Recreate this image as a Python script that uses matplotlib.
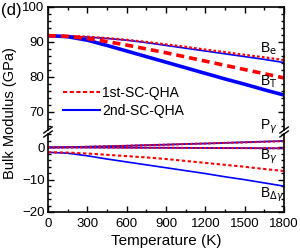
import matplotlib
matplotlib.use("Agg")
import matplotlib.pyplot as plt
from matplotlib.lines import Line2D

plt.rcParams['font.family'] = ['Liberation Sans', 'DejaVu Sans']
plt.rcParams['font.size'] = 9

# temperature grid (K)
temps = [0, 150, 300, 450, 600, 750, 900, 1050, 1200, 1350, 1500, 1650, 1800]

# upper panel (GPa)
be_2nd = [91.8, 91.7, 91.4, 91.0, 90.5, 89.8, 89.0, 88.2, 87.4, 86.6, 85.8, 85.0, 84.1]
be_1st = [91.8, 91.7, 91.5, 91.1, 90.6, 90.0, 89.3, 88.6, 87.8, 87.1, 86.3, 85.6, 84.8]
bt_2nd = [91.8, 91.5, 90.5, 89.0, 87.4, 85.8, 84.2, 82.6, 81.0, 79.4, 77.9, 76.3, 74.8]
bt_1st = [91.8, 91.6, 91.0, 90.1, 89.1, 88.0, 86.9, 85.7, 84.5, 83.3, 82.1, 80.9, 79.7]

# lower panel (GPa)
pg_2nd = [0.0, 0.05, 0.2, 0.35, 0.5, 0.7, 0.85, 1.05, 1.2, 1.4, 1.6, 1.8, 2.0]
pg_1st = [0.0, 0.05, 0.2, 0.35, 0.5, 0.7, 0.85, 1.05, 1.2, 1.4, 1.55, 1.75, 1.95]
bg_2nd = [0.0, 0.0, -0.02, -0.05, -0.08, -0.1, -0.12, -0.15, -0.18, -0.2, -0.22, -0.25, -0.28]
bg_1st = [0.0, 0.0, -0.02, -0.05, -0.08, -0.1, -0.12, -0.15, -0.18, -0.2, -0.22, -0.25, -0.28]
bdg_2nd = [-1.5, -1.8, -2.6, -3.6, -4.5, -5.4, -6.3, -7.2, -8.1, -9.1, -10.0, -11.0, -12.0]
bdg_1st = [-1.5, -1.6, -1.9, -2.3, -2.7, -3.1, -3.6, -4.2, -4.8, -5.4, -6.0, -6.7, -7.3]

RED = '#ff0000'
BLUE = '#0000ff'

fig = plt.figure(figsize=(3.0, 2.5), dpi=100)
ax_top = fig.add_axes([0.16, 0.48, 0.787, 0.492])
ax_bot = fig.add_axes([0.16, 0.152, 0.787, 0.312])

# upper panel
ax_top.plot(temps, be_2nd, color=BLUE, lw=1.2)
ax_top.plot(temps, be_1st, color=RED, lw=1.6, dashes=(1.2, 1.0))
ax_top.plot(temps, bt_2nd, color=BLUE, lw=2.6)
ax_top.plot(temps, bt_1st, color=RED, lw=2.6, dashes=(2.2, 1.4))

# lower panel
ax_bot.plot(temps, pg_2nd, color=BLUE, lw=1.3)
ax_bot.plot(temps, pg_1st, color=RED, lw=1.5, dashes=(1.2, 1.0))
ax_bot.plot(temps, bg_2nd, color=BLUE, lw=1.3)
ax_bot.plot(temps, bg_1st, color=RED, lw=1.5, dashes=(1.2, 1.0))
ax_bot.plot(temps, bdg_2nd, color=BLUE, lw=1.2)
ax_bot.plot(temps, bdg_1st, color=RED, lw=1.5, dashes=(1.6, 1.2))

for ax in (ax_top, ax_bot):
    ax.set_xlim(0, 1800)
    ax.set_xticks(range(0, 1801, 300))
    ax.set_xticks(range(0, 1801, 150), minor=True)
    ax.tick_params(which='both', direction='in', right=True, width=1)
    ax.tick_params(which='major', length=4, labelsize=9.5, pad=2.5)
    ax.tick_params(which='minor', length=2)
    for s in ax.spines.values():
        s.set_linewidth(1.2)

ax_top.set_ylim(64.8, 100)
ax_top.set_yticks([70, 80, 90, 100])
ax_top.set_yticks(range(66, 101, 2), minor=True)
ax_top.spines['bottom'].set_visible(False)
ax_top.tick_params(which='both', top=True, bottom=False, labelbottom=False)

ax_bot.set_ylim(-20, 4.15)
ax_bot.set_yticks([-20, -10, 0])
ax_bot.set_yticks(range(-20, 5, 2), minor=True)
ax_bot.spines['top'].set_visible(False)
ax_bot.tick_params(which='both', top=False)
ax_bot.tick_params(axis='x', which='major', pad=4)
ax_bot.set_xlabel('Temperature (K)', fontsize=11, labelpad=3)

fig.text(0.035, 0.546, 'Bulk Modulus (GPa)', rotation=90, fontsize=10.5,
         ha='center', va='center')
fig.text(0.005, 0.99, '(d)', fontsize=12, ha='left', va='top')

# break marks on both spines
for xf in (0.16, 0.947):
    for yf in (0.464, 0.48):
        fig.add_artist(Line2D([xf - 0.014, xf + 0.014], [yf - 0.012, yf + 0.012],
                              color='black', lw=1.0))

# curve labels
ax_top.text(1615, 86.9, r'B$_{\rm e}$', fontsize=10, ha='left', va='baseline')
ax_top.text(1615, 77.6, r'B$_{\rm T}$', fontsize=10, ha='left', va='baseline')
ax_bot.text(1615, 5.6, r'P$_{\gamma}$', fontsize=10, ha='left', va='baseline')
ax_bot.text(1615, -3.7, r'B$_{\gamma}$', fontsize=10, ha='left', va='baseline')
ax_bot.text(1615, -15.4, r'B$_{\Delta\gamma}$', fontsize=10, ha='left', va='baseline')

handles = [Line2D([], [], color=RED, lw=1.5, dashes=(2.0, 1.2)),
           Line2D([], [], color=BLUE, lw=1.5)]
ax_top.legend(handles, ['1st-SC-QHA', '2nd-SC-QHA'], loc='lower left',
              bbox_to_anchor=(0.03, 0.03), frameon=False, fontsize=10,
              handlelength=2.6, handletextpad=0.2, labelspacing=0.3,
              borderaxespad=0.2)

fig.savefig('out.png', dpi=100)
